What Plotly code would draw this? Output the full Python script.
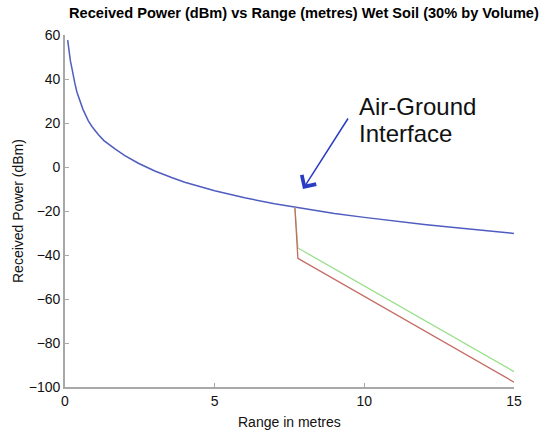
import plotly.graph_objects as go

# Blue: received power in air (dBm) vs range (m)
air_range = [0.09, 0.12, 0.15, 0.18, 0.22, 0.27, 0.33, 0.4, 0.5, 0.6, 0.78, 0.9, 1.11, 1.3,
             1.67, 2.0, 2.45, 3.0, 3.56, 4.0, 5.0, 6.0, 7.0, 7.7, 8.0, 9.0, 10.0, 11.0,
             12.0, 13.0, 14.0, 15.0]
air_power = [57.7, 54.0, 50.8, 48.2, 45.6, 41.8, 38.0, 34.0, 29.6, 26.2, 21.0, 18.4, 14.8, 12.0,
             8.2, 5.2, 1.7, -1.8, -4.8, -6.9, -10.8, -14.0, -16.7, -18.3, -19.0, -21.1, -22.9,
             -24.6, -26.1, -27.5, -28.8, -30.2]

# Soil branches after the air-ground interface
green_range = [7.68, 7.78, 15.0]
green_power = [-18.4, -36.8, -93.0]
red_range = [7.68, 7.78, 15.0]
red_power = [-18.4, -41.5, -97.8]

x_ticks = [0, 5, 10, 15]
y_ticks = [60, 40, 20, 0, -20, -40, -60, -80, -100]

FONT = "Liberation Sans, Arial, sans-serif"

fig = go.Figure()
fig.add_trace(go.Scatter(x=air_range, y=air_power, mode="lines",
                         line=dict(color="#4f5cc0", width=1.5)))
fig.add_trace(go.Scatter(x=green_range, y=green_power, mode="lines",
                         line=dict(color="#98e08a", width=1.3)))
fig.add_trace(go.Scatter(x=red_range, y=red_power, mode="lines",
                         line=dict(color="#c46a62", width=1.3)))

axis_common = dict(showgrid=False, zeroline=False, showline=True, linecolor="#a8a8a8",
                   linewidth=1.6, ticks="inside", ticklen=4, tickcolor="#a8a8a8",
                   tickfont=dict(family=FONT, size=14, color="#111"), mirror=False)

fig.update_xaxes(range=[0, 15], tickvals=x_ticks, **axis_common)
fig.update_yaxes(range=[-100, 60], tickvals=y_ticks, **axis_common)

fig.update_layout(
    width=544, height=435,
    margin=dict(l=65, r=30, t=35, b=48),
    paper_bgcolor="white", plot_bgcolor="white",
    showlegend=False,
    annotations=[
        dict(text="<b>Received Power (dBm) vs Range (metres) Wet Soil (30% by Volume)</b>",
             xref="paper", yref="paper", x=(290 - 65) / 449, y=1, yshift=22.5, xshift=14,
             xanchor="center", yanchor="middle", showarrow=False,
             font=dict(family=FONT, size=14.6, color="#000")),
        dict(text="Range in metres", xref="paper", yref="paper", x=0.5, y=0,
             yshift=-35, showarrow=False, yanchor="middle",
             font=dict(family=FONT, size=14, color="#111")),
        dict(text="Received Power (dBm)", xref="paper", yref="paper", x=0, y=0.5,
             xshift=-47, showarrow=False, textangle=-90, xanchor="center",
             font=dict(family=FONT, size=14, color="#111")),
        dict(text="Air-Ground", xref="x", yref="y", x=(357 - 65) / 449 * 15,
             y=60 - (106 - 35) / 2.2, showarrow=False, xanchor="left", yanchor="middle",
             font=dict(family=FONT, size=24, color="#111")),
        dict(text="Interface", xref="x", yref="y", x=(357 - 65) / 449 * 15,
             y=60 - (133 - 35) / 2.2, showarrow=False, xanchor="left", yanchor="middle",
             font=dict(family=FONT, size=24, color="#111")),
        dict(text="", xref="x", yref="y", x=7.95, y=-10, ax=46, ay=-72,
             showarrow=True, arrowhead=4, arrowsize=2.2, arrowwidth=1.5,
             arrowcolor="#2b3cc4"),
    ],
)

fig.write_html("out.html", config={"displayModeBar": False},
               post_script="document.body.style.margin='0px';")
